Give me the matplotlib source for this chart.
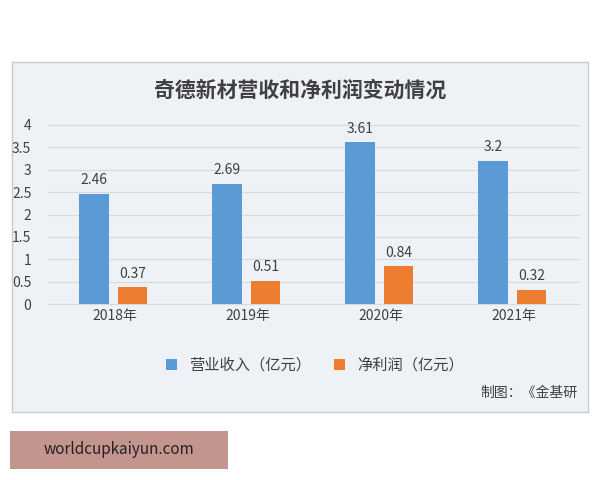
import matplotlib
matplotlib.use("Agg")
import matplotlib.pyplot as plt
from matplotlib.patches import Rectangle
import numpy as np

plt.rcParams['font.family'] = ['Noto Sans CJK SC', 'DejaVu Sans']

categories = ['2018年', '2019年', '2020年', '2021年']
revenue = [2.46, 2.69, 3.61, 3.2]
profit = [0.37, 0.51, 0.84, 0.32]
rev_labels = ['2.46', '2.69', '3.61', '3.2']
prof_labels = ['0.37', '0.51', '0.84', '0.32']
yticks = [0, 0.5, 1, 1.5, 2, 2.5, 3, 3.5, 4]
ytick_labels = ['0', '0.5', '1', '1.5', '2', '2.5', '3', '3.5', '4']

fig = plt.figure(figsize=(6, 4.8), dpi=100)
fig.patch.set_facecolor('white')
fig.patches.append(Rectangle((12/600, 1-412/480), 576/600, 350/480, transform=fig.transFigure,
                             facecolor='#eef2f7', edgecolor='#c8ccd2', lw=1, zorder=-5))
fig.patches.append(Rectangle((10/600, 1-469/480), 218/600, 38/480, transform=fig.transFigure,
                             facecolor='#c4948e', edgecolor='none', zorder=-5))
fig.text(119/600, 1-450/480, 'worldcupkaiyun.com', ha='center', va='center', fontsize=11, color='#222222')

ax = fig.add_axes([48/600, 1-304/480, 532/600, 179/480])
ax.set_zorder(5)
ax.set_facecolor('none')
x = np.arange(len(categories))
w = 0.22
b1 = ax.bar(x - 0.155, revenue, w, color='#5b9bd5', zorder=3, label='营业收入（亿元）')
b2 = ax.bar(x + 0.135, profit, w, color='#ed7d31', zorder=3, label='净利润（亿元）')
for xi, v, t in zip(x, revenue, rev_labels):
    ax.text(xi - 0.155, v + 0.15, t, ha='center', va='bottom', fontsize=10, color='#404040')
for xi, v, t in zip(x, profit, prof_labels):
    ax.text(xi + 0.135, v + 0.15, t, ha='center', va='bottom', fontsize=10, color='#404040')
ax.set_xlim(-0.5, 3.5)
ax.set_ylim(0, 4)
ax.set_yticks(yticks)
ax.set_yticklabels(ytick_labels)
ax.set_xticks(x)
ax.set_xticklabels(categories)
ax.tick_params(length=0, labelsize=10, colors='#404040')
ax.tick_params(axis='y', pad=12)
ax.grid(axis='y', color='#d9d9d9', lw=0.8, zorder=0)
for s in ['top', 'right', 'left']:
    ax.spines[s].set_visible(False)
ax.spines['bottom'].set_color('#d9d9d9')

fig.text(300/600, 1-90/480, '奇德新材营收和净利润变动情况', ha='center', va='center',
         fontsize=15, fontweight='bold', color='#404040')
fig.legend(handles=[b1, b2], loc='center', bbox_to_anchor=(315/600, 1-365/480), ncol=2,
           frameon=False, fontsize=11, handlelength=0.7, handleheight=0.7, columnspacing=1.5,
           labelcolor='#404040')
fig.text(578/600, 1-393/480, '制图：《金基研', ha='right', va='center', fontsize=10, color='#404040')

fig.savefig('out.png', dpi=100)
